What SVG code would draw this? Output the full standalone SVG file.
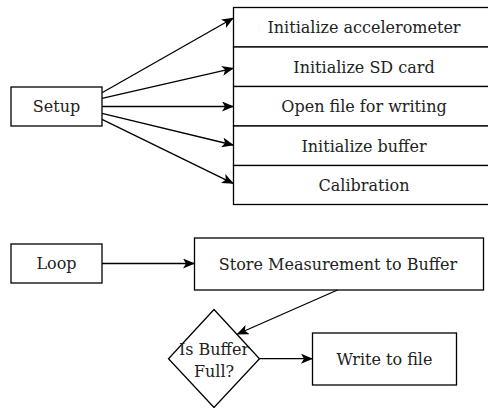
<svg xmlns="http://www.w3.org/2000/svg" width="488" height="408" viewBox="0 0 488 408">
<defs>
<style>
.box{fill:#fff;stroke:#000;stroke-width:1.3}
.t{font-family:"DejaVu Serif","Liberation Serif",serif;font-size:16px;fill:#222;text-anchor:middle}
.c{fill:none;stroke:#000;stroke-width:1.3}
</style>
<marker id="ah" viewBox="0 0 12 10" refX="11" refY="5" markerWidth="12" markerHeight="10" markerUnits="userSpaceOnUse" orient="auto">
<path d="M0,0 L12,5 L0,10 L3,5 Z" fill="#000"/>
</marker>
</defs>
<rect width="488" height="408" fill="#fff"/>
<g id="setup"><rect class="box" x="11" y="87" width="91" height="39"/><text class="t" x="56.5" y="112">Setup</text></g>
<g id="init-accel"><rect class="box" x="233.5" y="7.5" width="260" height="39.5"/><text class="t" x="364" y="33">Initialize accelerometer</text></g>
<g id="init-sd"><rect class="box" x="233.5" y="47" width="260" height="39.5"/><text class="t" x="364" y="73">Initialize SD card</text></g>
<g id="open-file"><rect class="box" x="233.5" y="86.5" width="260" height="39.5"/><text class="t" x="364" y="112">Open file for writing</text></g>
<g id="init-buffer"><rect class="box" x="233.5" y="126" width="260" height="39.5"/><text class="t" x="364" y="152">Initialize buffer</text></g>
<g id="calibration"><rect class="box" x="233.5" y="165.5" width="260" height="39"/><text class="t" x="364" y="191">Calibration</text></g>
<g id="loop"><rect class="box" x="11" y="244" width="91" height="39"/><text class="t" x="56.5" y="269">Loop</text></g>
<g id="store"><rect class="box" x="194.5" y="238" width="289" height="52"/><text class="t" x="338" y="270">Store Measurement to Buffer</text></g>
<g id="decision"><polygon class="box" points="214,309.5 259.5,358.7 214,407.5 168.5,358.7"/><text class="t" x="214" y="355">Is Buffer</text><text class="t" x="214" y="377">Full?</text></g>
<g id="write"><rect class="box" x="312.5" y="333" width="144" height="52"/><text class="t" x="384.5" y="365">Write to file</text></g>
<g id="connectors">
<line class="c" x1="102" y1="92.7" x2="233" y2="18.3" marker-end="url(#ah)"/>
<line class="c" x1="102" y1="98.3" x2="233" y2="68.3" marker-end="url(#ah)"/>
<line class="c" x1="102" y1="106.5" x2="233" y2="106.5" marker-end="url(#ah)"/>
<line class="c" x1="102" y1="113.3" x2="233" y2="145" marker-end="url(#ah)"/>
<line class="c" x1="102" y1="119.3" x2="233" y2="183.3" marker-end="url(#ah)"/>
<line class="c" x1="102" y1="263.5" x2="194" y2="263.5" marker-end="url(#ah)"/>
<line class="c" x1="337.5" y1="290" x2="237.5" y2="334" marker-end="url(#ah)"/>
<line class="c" x1="259.5" y1="358.7" x2="312" y2="358.7" marker-end="url(#ah)"/>
</g>
</svg>
